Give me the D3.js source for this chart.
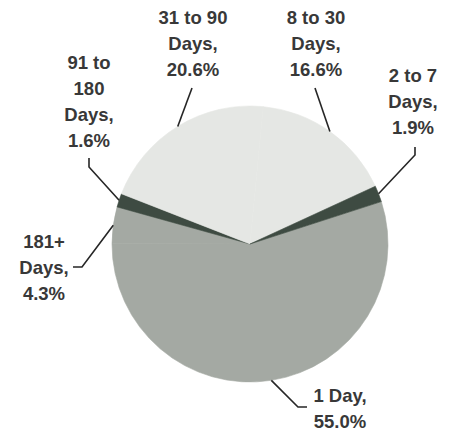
<!DOCTYPE html>
<html>
<head>
<meta charset="utf-8">
<script src="https://cdn.jsdelivr.net/npm/d3@7"></script>
<style>
  html, body { margin: 0; padding: 0; background: #ffffff; }
  svg { display: block; }
</style>
</head>
<body>
<svg id="chart" width="453" height="434"></svg>
<script>
// ---- data ----
const categories = ["1 Day", "181+ Days", "91 to 180 Days", "31 to 90 Days", "8 to 30 Days", "2 to 7 Days"];
const values = [55.0, 4.3, 1.6, 20.6, 16.6, 1.9];
const nameLines = [["1 Day,"], ["181+", "Days,"], ["91 to", "180", "Days,"], ["31 to 90", "Days,"], ["8 to 30", "Days,"], ["2 to 7", "Days,"]];
const sliceColors = ["#a4a9a3", "#a4a9a3", "#3e4b42", "#e5e7e4", "#e5e7e4", "#3e4b42"];

// ---- layout (label anchor: center x, first baseline; leader path points) ----
const labelPos = [
  { x: 340, y: 402, anchor: "middle", leader: [[298, 407], [307, 407]] },
  { x: 44,  y: 248, anchor: "middle", leader: [[82, 267], [73, 267]] },
  { x: 89,  y: 69,  anchor: "middle", leader: [[89, 167], [89, 158]] },
  { x: 193, y: 23.5, anchor: "middle", leader: [[192, 88]] },
  { x: 316, y: 23.5, anchor: "middle", leader: [[315, 88]] },
  { x: 413, y: 82,  anchor: "middle", leader: [[415, 155], [415, 147]] }
];

const cx = 250, cy = 244, R = 138, lineH = 26;
const svg = d3.select("#chart");
const g = svg.append("g").attr("transform", `translate(${cx},${cy})`);

const startA = 72.1 * Math.PI / 180;
const pie = d3.pie().sort(null).value(d => d.value)
  .startAngle(startA).endAngle(startA + 2 * Math.PI);
const data = categories.map((c, i) => ({ name: c, value: values[i], i }));
const arcs = pie(data);
const arc = d3.arc().innerRadius(0).outerRadius(R);
const rimArc = d3.arc().innerRadius(R).outerRadius(R);

g.selectAll("path.slice").data(arcs).enter().append("path")
  .attr("class", "slice")
  .attr("d", arc)
  .attr("fill", d => sliceColors[d.data.i])
  .attr("stroke", d => sliceColors[d.data.i])
  .attr("stroke-width", 0.6)
  .attr("stroke-linejoin", "round");

// leader lines
const line = d3.line();
arcs.forEach(a => {
  const rim = rimArc.centroid(a);
  const pts = [[rim[0] + cx, rim[1] + cy]].concat(labelPos[a.data.i].leader);
  svg.append("path")
    .attr("d", line(pts))
    .attr("fill", "none")
    .attr("stroke", "#262626")
    .attr("stroke-width", 1.6);
});

// labels
arcs.forEach(a => {
  const i = a.data.i;
  const lines = nameLines[i].concat([values[i].toFixed(1) + "%"]);
  const p = labelPos[i];
  const t = svg.append("text")
    .attr("text-anchor", p.anchor)
    .attr("font-family", "'Liberation Sans', Arial, sans-serif")
    .attr("font-size", 18.5)
    .attr("font-weight", "bold")
    .attr("fill", "#383838");
  lines.forEach((s, k) => {
    t.append("tspan").attr("x", p.x).attr("y", p.y + k * lineH).text(s);
  });
});
</script>
</body>
</html>
